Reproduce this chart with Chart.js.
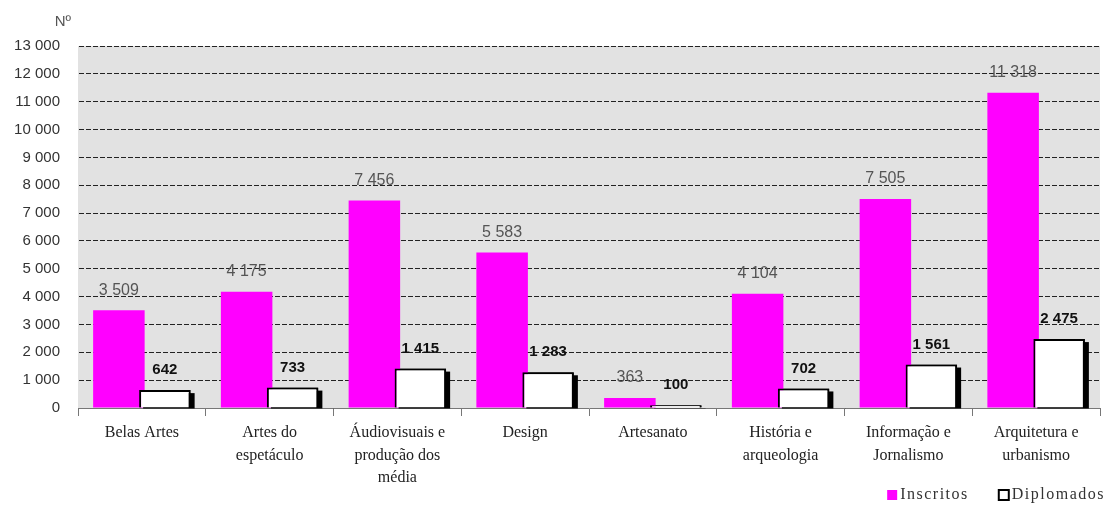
<!DOCTYPE html>
<html>
<head>
<meta charset="utf-8">
<script src="https://cdn.jsdelivr.net/npm/chart.js@4.4.1/dist/chart.umd.min.js"></script>
<style>
  html, body { margin: 0; padding: 0; background: #fff; }
  #wrap { position: relative; width: 1112px; height: 505px; }
</style>
</head>
<body>
<div id="wrap"><canvas id="myChart"></canvas></div>
<script>
const categories = [
    'Belas Artes',
    ['Artes do', 'espetáculo'],
    ['Áudiovisuais e', 'produção dos', 'média'],
    'Design',
    'Artesanato',
    ['História e', 'arqueologia'],
    ['Informação e', 'Jornalismo'],
    ['Arquitetura e', 'urbanismo']
];
const inscritos = [3509, 4175, 7456, 5583, 363, 4104, 7505, 11318];
const diplomados = [642, 733, 1415, 1283, 100, 702, 1561, 2475];
const yTicks = [0, 1000, 2000, 3000, 4000, 5000, 6000, 7000, 8000, 9000, 10000, 11000, 12000, 13000];

const SANS = "'Liberation Sans Narrow', 'Liberation Sans', sans-serif";
const SERIF = "'Liberation Serif', 'DejaVu Serif', serif";

function fmt(v) {
    return String(v).replace(/\B(?=(\d{3})+(?!\d))/g, ' ');
}

// gray plot background
const plotBg = {
    id: 'plotBg',
    beforeDraw(chart) {
        const { ctx, chartArea: a } = chart;
        ctx.save();
        ctx.fillStyle = '#e2e2e2';
        ctx.fillRect(a.left, a.top, a.right - a.left, a.bottom - a.top);
        ctx.restore();
    }
};

// white bars go over the magenta ones, with a black block shadow
const whiteBars = {
    id: 'whiteBars',
    afterDatasetsDraw(chart) {
        const ctx = chart.ctx;
        const meta = chart.getDatasetMeta(1);
        ctx.save();
        ctx.fillStyle = '#000';
        meta.data.forEach(bar => {
            const p = bar.getProps(['x', 'y', 'width', 'base'], true);
            ctx.fillRect(p.x - p.width / 2 + 4, p.y + 3, p.width, p.base - p.y - 2);
        });
        meta.data.forEach(bar => bar.draw(ctx));
        ctx.restore();
    }
};

// value labels above bars, "Nº" unit label and the legend
const valueLabels = {
    id: 'valueLabels',
    afterDatasetsDraw(chart) {
        const ctx = chart.ctx;
        ctx.save();
        ctx.textAlign = 'center';
        ctx.textBaseline = 'middle';
        chart.data.datasets.forEach((ds, i) => {
            const meta = chart.getDatasetMeta(i);
            ctx.font = i === 0 ? '16px ' + SANS : 'bold 15px ' + SANS;
            ctx.fillStyle = i === 0 ? '#555' : '#111';
            meta.data.forEach((bar, j) => {
                ctx.fillText(fmt(ds.data[j]), bar.x, bar.y - 20);
            });
        });
        const ys = chart.scales.y;
        ctx.font = '15px ' + SANS;
        ctx.fillStyle = '#555';
        ctx.textAlign = 'right';
        ctx.fillText('Nº', ys.right - 7, chart.chartArea.top - 24);

        // legend, right aligned under the x labels
        ctx.font = '16px ' + SERIF;
        ctx.letterSpacing = '1.5px';
        ctx.textAlign = 'left';
        let x = chart.width - 7;
        const y = chart.height - 10;
        for (let i = chart.data.datasets.length - 1; i >= 0; i--) {
            const ds = chart.data.datasets[i];
            const w = ctx.measureText(ds.label).width;
            x -= w;
            ctx.fillStyle = '#333';
            ctx.fillText(ds.label, x, y);
            const bx = x - 13;
            if (i === 1) {
                ctx.fillStyle = '#fff';
                ctx.fillRect(bx, y - 5, 10, 10);
                ctx.lineWidth = 2;
                ctx.strokeStyle = '#000';
                ctx.strokeRect(bx, y - 5, 10, 10);
            } else {
                ctx.fillStyle = '#ff00ff';
                ctx.fillRect(bx, y - 5, 10, 10);
            }
            x = bx - 30;
        }
        ctx.restore();
    }
};

const chart = new Chart(document.getElementById('myChart'), {
    type: 'bar',
    data: {
        labels: categories,
        datasets: [
            {
                label: 'Inscritos',
                data: inscritos,
                backgroundColor: '#ff00ff',
                borderWidth: 0,
                categoryPercentage: 0.72,
                barPercentage: 1.12
            },
            {
                label: 'Diplomados',
                data: diplomados,
                backgroundColor: '#ffffff',
                borderColor: '#000000',
                borderWidth: 2,
                categoryPercentage: 0.72,
                barPercentage: 1.12
            }
        ]
    },
    options: {
        responsive: true,
        maintainAspectRatio: false,
        animation: false,
        layout: { padding: { top: 46, right: 12, left: 0, bottom: 0 } },
        plugins: {
            legend: { display: false },
            tooltip: { enabled: false }
        },
        scales: {
            x: {
                grid: {
                    offset: true,
                    drawOnChartArea: false,
                    drawTicks: true,
                    tickLength: 8,
                    color: '#777'
                },
                border: { color: '#777', width: 1 },
                ticks: {
                    color: '#222',
                    font: { family: SERIF, size: 16, lineHeight: 1.4 },
                    maxRotation: 0,
                    autoSkip: false,
                    padding: 6
                },
                afterFit(scale) {
                    scale.height = 97;
                }
            },
            y: {
                min: 0,
                max: 13000,
                afterBuildTicks(scale) {
                    scale.ticks = yTicks.map(v => ({ value: v }));
                },
                afterFit(scale) {
                    scale.width = 78;
                },
                grid: {
                    color: '#222',
                    lineWidth: 1,
                    drawTicks: false
                },
                border: { display: true, color: 'rgba(0,0,0,0)', dash: [5, 2] },
                ticks: {
                    color: '#333',
                    font: { family: SANS, size: 15 },
                    padding: 18,
                    callback: v => fmt(v)
                }
            }
        }
    },
    plugins: [plotBg, whiteBars, valueLabels]
});
</script>
</body>
</html>
